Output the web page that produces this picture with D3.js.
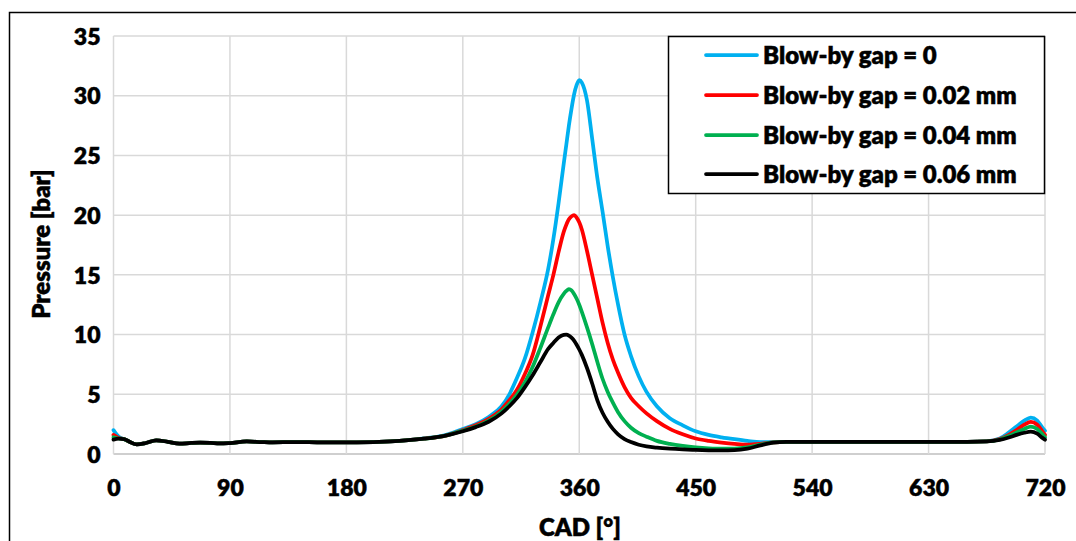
<!DOCTYPE html>
<html>
<head>
<meta charset="utf-8">
<script src="https://cdn.jsdelivr.net/npm/d3@7"></script>
<style>
  html, body { margin: 0; padding: 0; background: #ffffff; }
  svg { display: block; }
  text { font-family: Lato, "Open Sans", "Noto Sans", sans-serif; font-weight: 800; fill: #000; stroke: #000; stroke-width: 0.45px; }
</style>
</head>
<body>
<svg id="chart" width="1076" height="541"></svg>
<script>
// Crank angle (degrees) at which each pressure sample is taken
const cad = [0, 4, 8, 12, 18, 25, 33, 42, 51, 60,
  67, 75, 82, 90, 103, 115, 123, 140, 162, 188,
  214, 240, 255, 270, 280, 290, 300, 306, 312, 318,
  324, 330, 336, 340, 344, 348, 350, 352, 354, 356,
  358, 360, 362, 366, 370, 374, 378, 382, 386, 390,
  395, 400, 406, 412, 420, 430, 440, 450, 460, 470,
  480, 490, 500, 510, 520, 540, 600, 660, 675, 685,
  692, 698, 704, 709, 714, 718, 720];

// Chamber pressure [bar] for each blow-by gap
const pGap0 = [2.0, 1.45, 1.25, 1.05, 0.8, 0.92, 1.15, 1.02, 0.86, 0.93,
  0.96, 0.93, 0.88, 0.92, 1.05, 1.0, 0.98, 1.0, 0.97, 0.97,
  1.05, 1.3, 1.55, 2.1, 2.5, 3.1, 4.0, 5.0, 6.4, 8.0,
  10.2, 12.7, 15.5, 18.0, 21.0, 24.3, 25.9, 27.5, 28.9, 30.1,
  30.9, 31.3, 31.1, 29.6, 26.4, 23.1, 20.3, 17.4, 14.8, 12.5,
  10.0, 8.2, 6.5, 5.2, 4.0, 3.0, 2.4, 1.9, 1.6, 1.4,
  1.24, 1.1, 1.0, 1.0, 1.02, 1.02, 1.02, 1.02, 1.06, 1.3,
  1.8, 2.3, 2.8, 3.05, 2.8, 2.2, 1.95];

const pGap002 = [1.6, 1.35, 1.25, 1.05, 0.8, 0.92, 1.15, 1.02, 0.86, 0.93,
  0.96, 0.93, 0.88, 0.92, 1.05, 1.0, 0.98, 1.0, 0.97, 0.97,
  1.05, 1.28, 1.5, 2.0, 2.4, 2.95, 3.75, 4.5, 5.4, 6.7,
  8.3, 10.7, 13.3, 15.0, 16.9, 18.6, 19.2, 19.65, 19.9, 20.0,
  19.8, 19.4, 18.8, 17.0, 15.0, 13.0, 11.0, 9.3, 7.9, 6.8,
  5.6, 4.7, 4.0, 3.4, 2.75, 2.1, 1.65, 1.3, 1.1, 0.96,
  0.85, 0.78, 0.85, 0.98, 1.02, 1.02, 1.02, 1.02, 1.05, 1.25,
  1.6, 2.0, 2.45, 2.7, 2.45, 1.9, 1.6];

const pGap004 = [1.4, 1.3, 1.25, 1.05, 0.8, 0.92, 1.15, 1.02, 0.86, 0.93,
  0.96, 0.93, 0.88, 0.92, 1.05, 1.0, 0.98, 1.0, 0.97, 0.97,
  1.05, 1.28, 1.5, 1.95, 2.3, 2.8, 3.55, 4.2, 5.0, 6.0,
  7.3, 8.9, 10.6, 11.7, 12.7, 13.4, 13.65, 13.8, 13.7, 13.4,
  13.0, 12.5, 11.9, 10.6, 9.2, 7.7, 6.3, 5.2, 4.3, 3.5,
  2.75, 2.2, 1.75, 1.45, 1.1, 0.85, 0.68, 0.56, 0.48, 0.44,
  0.45, 0.55, 0.78, 0.97, 1.02, 1.02, 1.02, 1.02, 1.05, 1.22,
  1.5, 1.8, 2.1, 2.3, 2.1, 1.65, 1.4];

const pGap006 = [1.2, 1.28, 1.25, 1.05, 0.8, 0.92, 1.15, 1.02, 0.86, 0.93,
  0.96, 0.93, 0.88, 0.92, 1.05, 1.0, 0.98, 1.0, 0.97, 0.97,
  1.05, 1.28, 1.5, 1.9, 2.25, 2.7, 3.4, 4.0, 4.7, 5.6,
  6.6, 7.7, 8.8, 9.3, 9.75, 9.98, 10.0, 9.92, 9.75, 9.5,
  9.15, 8.75, 8.3, 7.2, 5.9, 4.5, 3.45, 2.7, 2.1, 1.65,
  1.25, 1.0, 0.78, 0.64, 0.53, 0.44, 0.38, 0.34, 0.31, 0.3,
  0.32, 0.45, 0.72, 0.95, 1.02, 1.02, 1.02, 1.02, 1.05, 1.18,
  1.38, 1.6, 1.78, 1.87, 1.7, 1.35, 1.2];

const seriesNames = ["Blow-by gap = 0", "Blow-by gap = 0.02 mm",
  "Blow-by gap = 0.04 mm", "Blow-by gap = 0.06 mm"];
const seriesColors = ["#00b0f0", "#ff0000", "#00b050", "#000000"];
const seriesValues = [pGap0, pGap002, pGap004, pGap006];

const xTicks = [0, 90, 180, 270, 360, 450, 540, 630, 720];
const yTicks = [0, 5, 10, 15, 20, 25, 30, 35];

const svg = d3.select("#chart");

// Plot area bounds
const plot = { left: 113.5, right: 1045, top: 36, bottom: 454 };
const x = d3.scaleLinear().domain([0, 720]).range([plot.left, plot.right]);
const y = d3.scaleLinear().domain([0, 35]).range([plot.bottom, plot.top]);

// Outer frame of the figure
svg.append("path")
  .attr("d", "M9.5,541 V12.5 H1076")
  .attr("fill", "none")
  .attr("stroke", "#000")
  .attr("stroke-width", 1.5);

// Gridlines
const grid = svg.append("g");
grid.selectAll("line.h").data(yTicks).join("line")
  .attr("class", "h")
  .attr("x1", plot.left).attr("x2", plot.right)
  .attr("y1", d => y(d)).attr("y2", d => y(d))
  .attr("stroke", d => d === 0 ? "#cfcfcf" : "#d9d9d9")
  .attr("stroke-width", d => d === 0 ? 2 : 1.5);
grid.selectAll("line.v").data(xTicks).join("line")
  .attr("class", "v")
  .attr("x1", d => x(d)).attr("x2", d => x(d))
  .attr("y1", plot.top).attr("y2", plot.bottom)
  .attr("stroke", "#d9d9d9")
  .attr("stroke-width", 1.5);

// Axes (labels only, no domain line or tick marks)
const yAxis = svg.append("g")
  .attr("transform", `translate(${plot.left - 13},0)`)
  .call(d3.axisLeft(y).tickValues(yTicks).tickSize(0).tickPadding(0));
yAxis.select(".domain").remove();
yAxis.selectAll("text")
  .attr("font-size", 23)
  .attr("fill", "#000")
  .attr("dy", "0.36em");

const xAxis = svg.append("g")
  .attr("transform", `translate(0,${plot.bottom + 25})`)
  .call(d3.axisBottom(x).tickValues(xTicks).tickSize(0).tickPadding(0));
xAxis.select(".domain").remove();
xAxis.selectAll("text")
  .attr("font-size", 23)
  .attr("fill", "#000")
  .attr("dy", "0.72em");
svg.selectAll("g").attr("font-family", null);

// Axis titles
svg.append("text")
  .attr("transform", "translate(50,244) rotate(-90)")
  .attr("text-anchor", "middle")
  .attr("font-size", 24)
  .text("Pressure [bar]");
svg.append("text")
  .attr("x", 580).attr("y", 536)
  .attr("text-anchor", "middle")
  .attr("font-size", 24)
  .text("CAD [°]");

// Pressure curves
const line = d3.line()
  .x(d => x(d[0]))
  .y(d => y(d[1]))
  .curve(d3.curveMonotoneX);

const curves = svg.append("g");
seriesValues.forEach((vals, i) => {
  curves.append("path")
    .datum(cad.map((c, j) => [c, vals[j]]))
    .attr("fill", "none")
    .attr("stroke", seriesColors[i])
    .attr("stroke-width", 3.75)
    .attr("stroke-linejoin", "round")
    .attr("stroke-linecap", "round")
    .attr("d", line);
});

// Legend
const legend = svg.append("g");
legend.append("rect")
  .attr("x", 668.5).attr("y", 36.5)
  .attr("width", 376).attr("height", 157)
  .attr("fill", "#fff")
  .attr("stroke", "#000")
  .attr("stroke-width", 1.5);
const rowY = [55, 95, 135, 174];
seriesNames.forEach((name, i) => {
  legend.append("line")
    .attr("x1", 706).attr("x2", 757)
    .attr("y1", rowY[i]).attr("y2", rowY[i])
    .attr("stroke", seriesColors[i])
    .attr("stroke-width", 3.75)
    .attr("stroke-linecap", "round");
  legend.append("text")
    .attr("x", 763).attr("y", rowY[i])
    .attr("dy", "0.36em")
    .attr("font-size", 24)
    .text(name);
});
</script>
</body>
</html>
